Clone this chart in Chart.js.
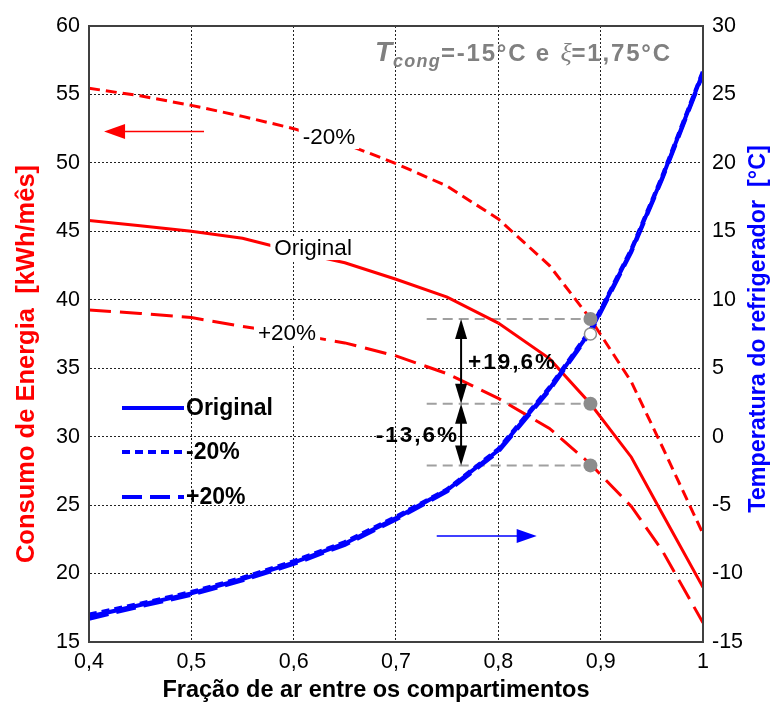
<!DOCTYPE html>
<html><head><meta charset="utf-8">
<script src="https://cdn.jsdelivr.net/npm/chart.js@4.4.0/dist/chart.umd.min.js"></script>
<style>html,body{margin:0;padding:0;background:#fff}#wrap{width:771px;height:709px;position:relative}</style>
</head><body><div id="wrap"><canvas id="c" width="771" height="709"></canvas></div>
<script>
// ---------- data ----------
const xValues        = [0.4, 0.45, 0.5, 0.55, 0.6, 0.65, 0.7, 0.75, 0.8, 0.85, 0.89, 0.93, 0.96, 1.0];
const energyOriginal = [45.8, 45.4, 45.0, 44.5, 43.55, 42.7, 41.5, 40.2, 38.3, 35.7, 32.4, 28.5, 24.4, 19.0];
const energyMinus20  = [55.45, 54.9, 54.2, 53.4, 52.5, 51.4, 49.95, 48.3, 45.9, 42.5, 38.6, 34.0, 29.3, 22.9];
const energyPlus20   = [39.25, 39.0, 38.7, 38.05, 37.5, 36.85, 35.9, 34.6, 32.8, 30.6, 28.0, 24.9, 21.7, 16.4];
const tempOriginal   = [-13.15, -12.3, -11.45, -10.4, -9.2, -7.8, -5.95, -3.9, -1.0, 3.5, 7.7, 13.6, 18.9, 26.6];
const tempMinus20    = [-13.0, -12.2, -11.35, -10.3, -9.1, -7.7, -5.85, -3.85, -0.9, 3.6, 7.8, 13.7, 19.0, 26.7];
const tempPlus20     = [-13.3, -12.4, -11.55, -10.5, -9.3, -7.9, -6.05, -4.0, -1.1, 3.4, 7.6, 13.5, 18.8, 26.5];

const xTickLabels      = ['0,4', '0,5', '0,6', '0,7', '0,8', '0,9', '1'];
const energyTickLabels = ['15', '20', '25', '30', '35', '40', '45', '50', '55', '60'];
const tempTickLabels   = ['-15', '-10', '-5', '0', '5', '10', '15', '20', '25', '30'];

const markerX        = 0.89;
const markerEnergy   = [38.6, 32.4, 27.9];
const markerTemp     = 7.5;
const guideStartX    = 0.73;
const arrowX         = 0.7636;
const percentLabels  = ['+19,6%', '-13,6%'];
const seriesNames    = ['Original', '-20%', '+20%'];
const titleParts     = { T: 'T', sub: 'cong', mid: '=-15°C e ', xi: 'ξ', end: '=1,75°C' };
const axisTitleX     = 'Fração de ar entre os compartimentos';
const axisTitleLeft  = 'Consumo de Energia  [kWh/mês]';
const axisTitleRight = 'Temperatura do refrigerador  [°C]';

// label anchors (data coordinates)
const curveLabels = [
  { text: '-20%', x: 0.6345, y: 51.89 },
  { text: 'Original', x: 0.619, y: 43.78 },
  { text: '+20%', x: 0.5935, y: 37.57 }
];
const redArrow  = { fromX: 0.5124, toX: 0.4147, y: 52.3 };
const blueArrow = { fromX: 0.7398, toX: 0.8375, y: -7.26 };

// ---------- build datasets ----------
const pts = arr => arr.map((v, i) => ({ x: xValues[i], y: v }));
const RED = '#ff0000', BLUE = '#0000ff', GRAY = '#8c8c8c';
const FONT = '"Liberation Sans", Arial, sans-serif';

const datasets = [
  { label: 'E ' + seriesNames[0], data: pts(energyOriginal), yAxisID: 'y', borderColor: RED, borderWidth: 3, order: 5 },
  { label: 'E ' + seriesNames[1], data: pts(energyMinus20), yAxisID: 'y', borderColor: RED, borderWidth: 3, borderDash: [11, 6], order: 5 },
  { label: 'E ' + seriesNames[2], data: pts(energyPlus20), yAxisID: 'y', borderColor: RED, borderWidth: 3, borderDash: [22, 9], order: 5 },
  { label: 'T ' + seriesNames[1], data: pts(tempMinus20), yAxisID: 'y2', borderColor: BLUE, borderWidth: 4, borderDash: [8, 5], order: 3 },
  { label: 'T ' + seriesNames[2], data: pts(tempPlus20), yAxisID: 'y2', borderColor: BLUE, borderWidth: 4, borderDash: [20, 8], order: 3 },
  { label: 'T ' + seriesNames[0], data: pts(tempOriginal), yAxisID: 'y2', borderColor: BLUE, borderWidth: 4, order: 2 }
];
markerEnergy.forEach((v, i) => {
  datasets.push({ label: 'guide' + i, data: [{ x: guideStartX, y: v }, { x: markerX, y: v }], yAxisID: 'y',
    borderColor: '#a0a0a0', borderWidth: 2, borderDash: [10, 6], order: 6 });
});
datasets.push({ label: 'markers', data: markerEnergy.map(v => ({ x: markerX, y: v })), yAxisID: 'y', showLine: false,
  pointRadius: 7, pointBackgroundColor: GRAY, pointBorderColor: GRAY, pointBorderWidth: 0, order: 1 });
datasets.push({ label: 'markerT', data: [{ x: markerX, y: markerTemp }], yAxisID: 'y2', showLine: false,
  pointRadius: 6, pointBackgroundColor: '#fff', pointBorderColor: GRAY, pointBorderWidth: 1.5, order: 1 });
datasets.forEach(d => { if (d.pointRadius === undefined) d.pointRadius = 0; d.fill = false; d.tension = 0; d.backgroundColor = d.borderColor; });

// ---------- helpers ----------
function arrowHead(ctx, tx, ty, dx, dy, len, half) {
  const bx = tx - dx * len, by = ty - dy * len;
  ctx.beginPath();
  ctx.moveTo(tx, ty);
  ctx.lineTo(bx - dy * half, by + dx * half);
  ctx.lineTo(bx + dy * half, by - dx * half);
  ctx.closePath();
  ctx.fill();
}

const decor = {
  id: 'decor',
  afterDatasetsDraw(chart) {
    const { ctx, scales: { x, y, y2 } } = chart;
    ctx.save();
    // curve labels with white background
    ctx.font = '22.5px ' + FONT;
    ctx.textAlign = 'center'; ctx.textBaseline = 'middle';
    curveLabels.forEach(l => {
      const px = x.getPixelForValue(l.x), py = y.getPixelForValue(l.y);
      const w = ctx.measureText(l.text).width;
      ctx.fillStyle = '#fff'; ctx.fillRect(px - w / 2 - 4, py - 12, w + 8, 24);
      ctx.fillStyle = '#000'; ctx.fillText(l.text, px, py + 1);
    });

    // red arrow (left)
    ctx.strokeStyle = RED; ctx.fillStyle = RED; ctx.lineWidth = 1.5;
    let ry = y.getPixelForValue(redArrow.y), rx1 = x.getPixelForValue(redArrow.fromX), rx2 = x.getPixelForValue(redArrow.toX);
    ctx.beginPath(); ctx.moveTo(rx1, ry); ctx.lineTo(rx2 + 15, ry); ctx.stroke();
    arrowHead(ctx, rx2, ry, -1, 0, 21, 7.5);

    // blue arrow (right)
    ctx.strokeStyle = BLUE; ctx.fillStyle = BLUE;
    let by = y2.getPixelForValue(blueArrow.y), bx1 = x.getPixelForValue(blueArrow.fromX), bx2 = x.getPixelForValue(blueArrow.toX);
    ctx.beginPath(); ctx.moveTo(bx1, by); ctx.lineTo(bx2 - 15, by); ctx.stroke();
    arrowHead(ctx, bx2, by, 1, 0, 20, 7);

    // black double arrows
    ctx.strokeStyle = '#000'; ctx.fillStyle = '#000'; ctx.lineWidth = 2;
    const ax = x.getPixelForValue(arrowX);
    const py = markerEnergy.map(v => y.getPixelForValue(v));
    for (let i = 0; i < 2; i++) {
      const t = py[i], b = py[i + 1];
      ctx.beginPath(); ctx.moveTo(ax, t + 10); ctx.lineTo(ax, b - 10); ctx.stroke();
      arrowHead(ctx, ax, t, 0, -1, 20, 6);
      arrowHead(ctx, ax, b, 0, 1, 20, 6);
    }
    // percent labels
    ctx.font = 'bold 22.5px ' + FONT;
    ctx.letterSpacing = '2px';
    ctx.textBaseline = 'middle';
    ctx.textAlign = 'left';
    ctx.fillText(percentLabels[0], ax + 7, (py[0] + py[1]) / 2 + 1);
    ctx.textAlign = 'right';
    ctx.fillText(percentLabels[1], ax - 2, (py[1] + py[2]) / 2 + 1);
    ctx.letterSpacing = '0px';

    // legend (blue series)
    const legendOrder = [5, 3, 4];
    const ly = [408, 452, 497];
    legendOrder.forEach((di, k) => {
      const d = chart.data.datasets[di];
      ctx.strokeStyle = d.borderColor; ctx.lineWidth = d.borderWidth;
      ctx.setLineDash(d.borderDash || []);
      ctx.beginPath(); ctx.moveTo(122, ly[k]); ctx.lineTo(184, ly[k]); ctx.stroke();
      ctx.setLineDash([]);
      ctx.fillStyle = '#000'; ctx.font = 'bold 23px ' + FONT; ctx.textAlign = 'left';
      ctx.fillText(seriesNames[k], 186, ly[k] + 1);
    });
    ctx.restore();
  },
  afterDraw(chart) {
    const { ctx, chartArea: a } = chart;
    ctx.save();
    // frame
    ctx.strokeStyle = '#404040'; ctx.lineWidth = 2;
    ctx.strokeRect(a.left, a.top, a.right - a.left, a.bottom - a.top);

    // title annotation
    ctx.fillStyle = '#808080'; ctx.textBaseline = 'alphabetic'; ctx.textAlign = 'left';
    let tx = 375, base = 61;
    ctx.font = 'italic bold 28px ' + FONT; ctx.fillText(titleParts.T, tx, base); tx += ctx.measureText(titleParts.T).width + 1;
    ctx.font = 'italic bold 18px ' + FONT; ctx.letterSpacing = '1.2px'; ctx.fillText(titleParts.sub, tx, base + 6); tx += ctx.measureText(titleParts.sub).width;
    ctx.font = 'bold 24px ' + FONT; ctx.letterSpacing = '1.8px'; ctx.fillText(titleParts.mid, tx, base); tx += ctx.measureText(titleParts.mid).width + 1;
    ctx.font = 'italic 26px "Liberation Serif", serif'; ctx.letterSpacing = '0px'; ctx.fillText(titleParts.xi, tx, base); tx += ctx.measureText(titleParts.xi).width;
    ctx.font = 'bold 24px ' + FONT; ctx.letterSpacing = '1.8px'; ctx.fillText(titleParts.end, tx, base);
    ctx.letterSpacing = '0px';

    // axis titles
    ctx.textAlign = 'center'; ctx.textBaseline = 'middle';
    ctx.fillStyle = '#000';
    ctx.font = 'bold 23.5px ' + FONT;
    ctx.fillText(axisTitleX, 376, 691);
    ctx.save(); ctx.translate(27, 364); ctx.rotate(-Math.PI / 2);
    ctx.font = 'bold 25.5px ' + FONT;
    ctx.fillStyle = RED; ctx.fillText(axisTitleLeft, 0, 0); ctx.restore();
    ctx.save(); ctx.translate(759, 329); ctx.rotate(-Math.PI / 2);
    ctx.font = 'bold 23.3px ' + FONT;
    ctx.fillStyle = BLUE; ctx.fillText(axisTitleRight, 0, 0); ctx.restore();
    ctx.restore();
  }
};

const gridCommon = { color: '#222', lineWidth: 1, drawTicks: false };
const borderCommon = { display: true, color: '#404040', width: 2, dash: [2, 2] };
const tickFont = { family: FONT, size: 21.5 };

new Chart(document.getElementById('c'), {
  type: 'line',
  data: { datasets },
  options: {
    responsive: false,
    animation: false,
    layout: { padding: { top: 26, left: 0, right: 0, bottom: 0 } },
    plugins: { legend: { display: false }, tooltip: { enabled: false }, title: { display: false } },
    scales: {
      x: {
        type: 'linear', min: 0.4, max: 1.0,
        ticks: { stepSize: 0.1, color: '#000', font: tickFont, padding: 7, maxRotation: 0, autoSkip: false,
          callback: (v, i) => xTickLabels[i] },
        grid: gridCommon, border: borderCommon,
        afterFit: s => { s.height = 67; }
      },
      y: {
        type: 'linear', position: 'left', min: 15, max: 60,
        ticks: { stepSize: 5, color: '#000', font: tickFont, padding: 9, callback: (v, i) => energyTickLabels[i] },
        grid: gridCommon, border: borderCommon,
        afterFit: s => { s.width = 89; }
      },
      y2: {
        type: 'linear', position: 'right', min: -15, max: 30,
        ticks: { stepSize: 5, color: '#000', font: tickFont, padding: 9, callback: (v, i) => tempTickLabels[i] },
        grid: { drawOnChartArea: false, drawTicks: false },
        border: { display: true, color: '#404040', width: 2 },
        afterFit: s => { s.width = 68; }
      }
    }
  },
  plugins: [decor]
});
</script>
</body></html>
